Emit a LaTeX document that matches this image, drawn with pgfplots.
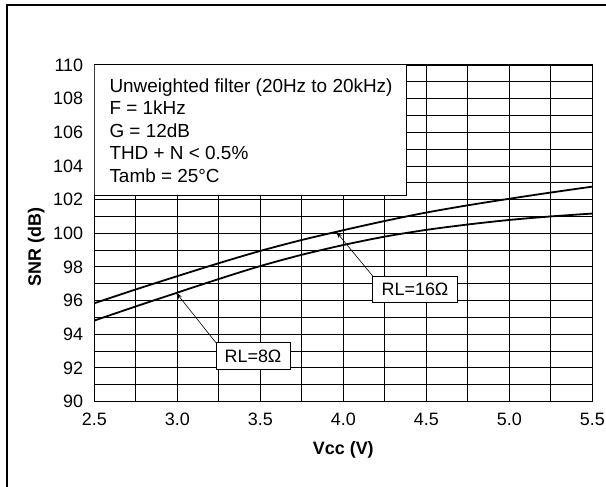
\documentclass[border=0pt]{standalone}
\usepackage{pgfplots}
\pgfplotsset{compat=1.18}
\usepackage{fontspec}
\setmainfont{Liberation Sans}
\usetikzlibrary{arrows.meta}
\begin{document}
\fontsize{18}{22}\selectfont
\begin{tikzpicture}[x=1bp,y=1bp]
\path[use as bounding box] (0,0) rectangle (606,487);
\draw[line width=2bp] (6.7,0) -- (6.7,481.7) -- (610,481.7);
\begin{axis}[
  at={(94.3bp,85.5bp)}, anchor=south west,
  scale only axis, width=498bp, height=336.5bp,
  xmin=2.5, xmax=5.5, ymin=90, ymax=110,
  xtick={2.5,3,...,5.5},
  minor xtick={2.75,3.25,...,5.25},
  ytick={90,92,...,110},
  minor ytick={91,93,...,109},
  xtick pos=left, ytick pos=left,
  grid=both,
  major grid style={black, line width=0.8bp},
  minor grid style={black, line width=0.8bp},
  axis line style={black, line width=1.2bp},
  tick align=inside, major tick length=3bp, minor tick length=3bp,
  tick style={black, line width=1bp},
  /pgf/number format/assume math mode=true,
  xticklabel style={/pgf/number format/fixed, /pgf/number format/fixed zerofill, /pgf/number format/precision=1, anchor=north, inner sep=0pt, yshift=-11.5bp},
  yticklabel style={anchor=east, inner sep=0pt, xshift=-11bp},
  xlabel={\bfseries Vcc (V)},
  xlabel style={at={(axis description cs:0.5,0)}, anchor=center, yshift=-48.5bp},
  ylabel={\bfseries SNR (dB)},
  ylabel style={at={(axis description cs:0,0.5)}, anchor=center, xshift=-13.5bp, yshift=58bp},
]
\addplot[black, line width=1.8bp, smooth] coordinates {
(2.5,95.84) (2.75,96.66) (3.0,97.45) (3.25,98.22) (3.5,98.95) (3.75,99.60) (4.0,100.18) (4.25,100.73) (4.5,101.23) (4.75,101.66) (5.0,102.05) (5.25,102.42) (5.5,102.77)};
\addplot[black, line width=1.8bp, smooth] coordinates {
(2.5,94.81) (2.75,95.65) (3.0,96.47) (3.25,97.28) (3.5,98.05) (3.75,98.72) (4.0,99.30) (4.25,99.80) (4.5,100.20) (4.75,100.52) (5.0,100.79) (5.25,101.00) (5.5,101.17)};
\draw[black, line width=1bp, fill=white] (axis cs:2.5,110) rectangle (axis cs:4.38,102.25);
\draw[black, line width=0.6bp, -{Stealth[length=7bp,width=4bp]}] (axis cs:4.177,97.46) -- (axis cs:3.956,100.1);
\node[draw=black, line width=0.8bp, fill=white, inner sep=0pt, minimum width=84.6bp, minimum height=26.7bp] at (axis cs:4.432,96.67) {RL=16Ω};
\draw[black, line width=0.6bp, -{Stealth[length=7bp,width=4bp]}] (axis cs:3.233,93.49) -- (axis cs:2.992,96.48);
\node[draw=black, line width=0.8bp, fill=white, inner sep=0pt, minimum width=74bp, minimum height=26.6bp] at (axis cs:3.456,92.70) {RL=8Ω};
\end{axis}
\begin{scope}[font=\fontsize{19}{23}\selectfont]
\node[anchor=base west, inner sep=0pt] at (109.3,394.7) {Unweighted filter (20Hz to 20kHz)};
\node[anchor=base west, inner sep=0pt] at (109.3,372.4) {F = 1kHz};
\node[anchor=base west, inner sep=0pt] at (109.3,349.4) {G = 12dB};
\node[anchor=base west, inner sep=0pt] at (109.3,327.4) {THD + N < 0.5\%};
\node[anchor=base west, inner sep=0pt] at (109.3,304.7) {Tamb = 25°C};
\end{scope}
\end{tikzpicture}
\end{document}
